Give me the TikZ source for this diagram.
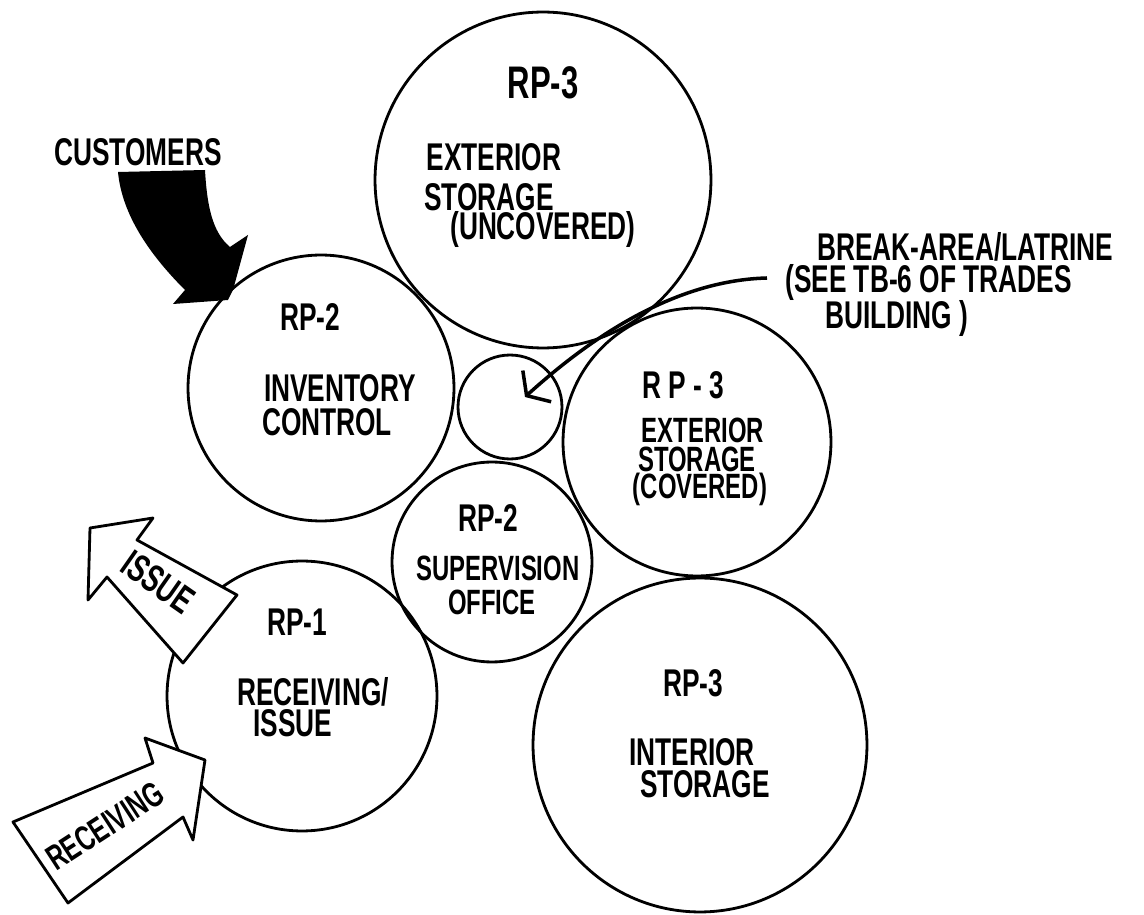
\documentclass[tikz,border=0pt]{standalone}
\usepackage{fontspec}
\newfontfamily\handfont[FakeStretch=0.68]{Liberation Sans Bold}
\usetikzlibrary{arrows.meta}

\tikzset{
  room/.style={circle, draw, line width=1.6pt, inner sep=0pt, minimum size=#1},
  hand/.style={font=\handfont\fontsize{22}{24}\selectfont, inner sep=0pt},
  small/.style={font=\handfont\fontsize{20}{22}\selectfont, inner sep=0pt},
  big/.style={font=\handfont\fontsize{26}{28}\selectfont, inner sep=0pt},
  flow/.style={draw, fill=white, line width=1.6pt, line join=round},
  leader/.style={line width=2pt, -{Straight Barb[length=8pt, width=24pt]}},
}

\begin{document}
\begin{tikzpicture}[x=0.02cm, y=-0.02cm]
\useasboundingbox (0,0) rectangle (1144,915);

\node[room=6.72cm] (extU) at (543,180) {};
\node[room=5.32cm] (inv) at (321,388) {};
\node[room=2.08cm] (brk) at (510,407) {};
\node[room=5.36cm] (extC) at (697,442) {};
\node[room=4cm] (sup) at (492,562) {};
\node[room=5.4cm] (rcv) at (302,696) {};
\node[room=6.68cm] (intr) at (700,745) {};

\node[big] (extUcode) at (543,83) {RP-3};
\node[hand] (extUa) at (494,157) {EXTERIOR};
\node[hand] (extUb) at (489,197) {STORAGE};
\node[hand] (extUc) at (543,230) {(UNCOVERED)};

\node[hand] (invcode) at (310,317) {RP-2};
\node[hand] (inva) at (340,388) {INVENTORY};
\node[hand] (invb) at (327,422) {CONTROL};

\node[hand] (extCcode) at (683,385) {R P - 3};
\node[small] (extCa) at (703,430) {EXTERIOR};
\node[small] (extCb) at (697,459) {STORAGE};
\node[small] (extCc) at (700,489) {(COVERED)};

\node[hand] (supcode) at (488,518) {RP-2};
\node[small] (supa) at (498,568) {SUPERVISION};
\node[small] (supb) at (492,602) {OFFICE};

\node[hand] (rcvcode) at (297,622) {RP-1};
\node[hand] (rcva) at (313,692) {RECEIVING/};
\node[hand] (rcvb) at (293,723) {ISSUE};

\node[hand] (intrcode) at (693,683) {RP-3};
\node[hand] (intra) at (692,752) {INTERIOR};
\node[hand] (intrb) at (705,784) {STORAGE};

\node[hand, anchor=west] (brkA) at (817,247) {BREAK-AREA/LATRINE};
\node[hand, anchor=west] (brkB) at (785,283) {(SEE TB-6 OF TRADES};
\node[hand, anchor=west] (brkC) at (825,319) {BUILDING )};
\coordinate (brkOut) at (767,278);
\coordinate (brkIn) at (525,397);
\draw[leader] (brkOut) .. controls (690,280) and (610,320) .. (brkIn);

\node[hand] (cust) at (138,152) {CUSTOMERS};
\fill (118,172) -- (205,170) .. controls (207,205) and (212,232) .. (230,247)
  -- (248,235) -- (233,290) -- (228,300) -- (173,304) -- (185,290)
  .. controls (150,255) and (122,215) .. (118,172) -- cycle;

\draw[flow] (90,528) -- (153,518) -- (137,540) -- (237,595) -- (183,663)
  -- (107,577) -- (88,600) -- cycle;
\node[hand, rotate=-35] (issue) at (158,582) {ISSUE};

\draw[flow] (13,822) -- (153,763) -- (145,738) -- (205,760) -- (193,840)
  -- (183,817) -- (68,903) -- cycle;
\node[small, rotate=33] (receiving) at (105,826) {RECEIVING};

\end{tikzpicture}
\end{document}
